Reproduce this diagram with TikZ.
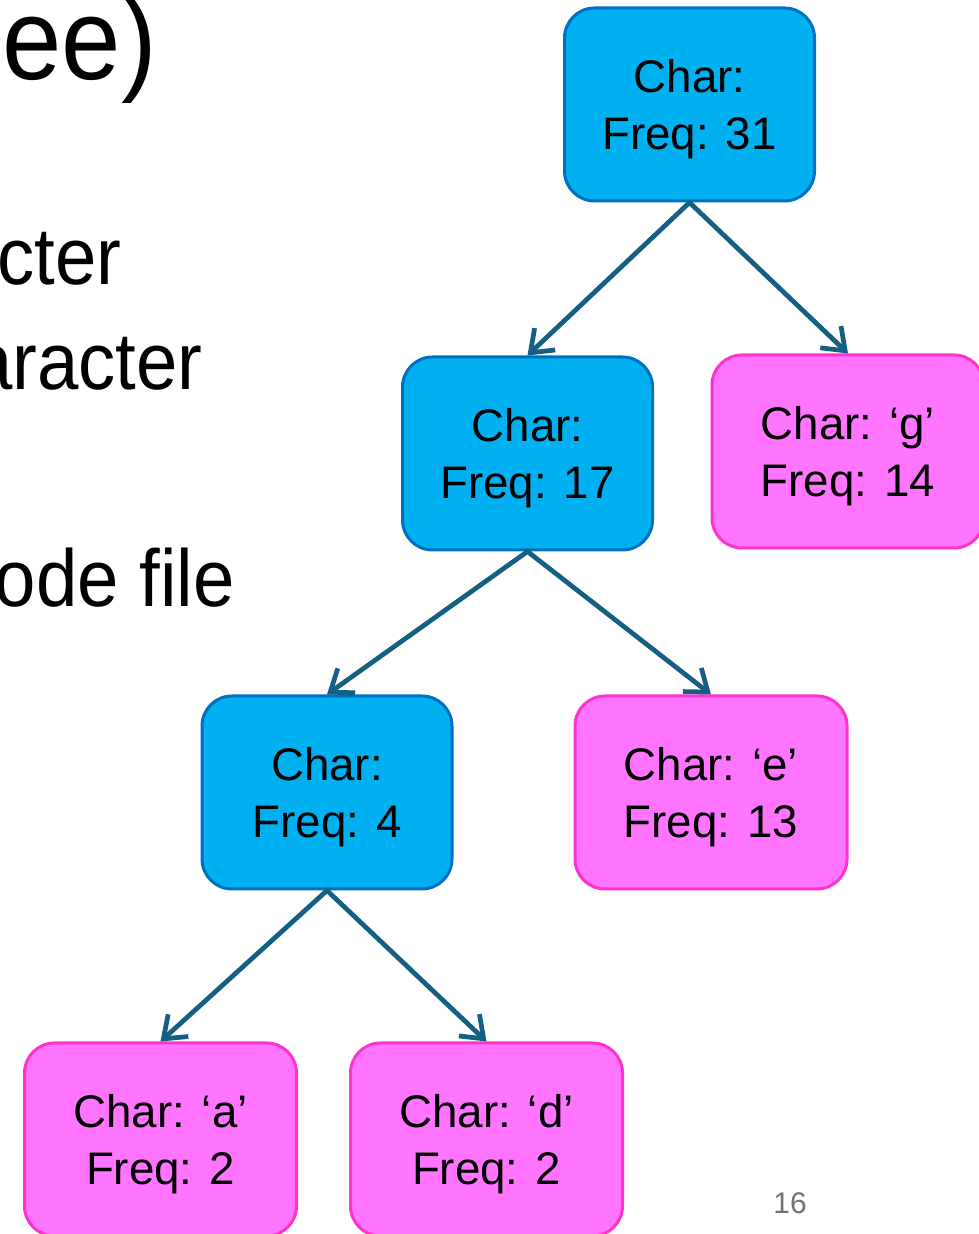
\documentclass[tikz,border=0pt]{standalone}
\usepackage{fontspec}
\setmainfont{Liberation Sans}
\newfontfamily\slidefont[FakeStretch=0.92]{Liberation Sans}
\usetikzlibrary{arrows.meta}
\definecolor{HTBlue}{HTML}{00B0F0}
\definecolor{HTBlueLine}{HTML}{0070C0}
\definecolor{HTPink}{HTML}{FF75FF}
\definecolor{HTPinkLine}{HTML}{FF33CC}
\definecolor{HTArrow}{HTML}{156082}
\definecolor{HTGray}{HTML}{767171}
\begin{document}
\begin{tikzpicture}[x=1cm,y=1cm,
  sumbox/.style={draw=HTBlueLine,fill=HTBlue,line width=0.06cm,rounded corners=0.6cm,
    minimum width=5.0cm,minimum height=3.86cm,align=center,text depth=0pt,
    font=\fontsize{26}{32.4}\selectfont},
  leafbox/.style={sumbox,draw=HTPinkLine,fill=HTPink,minimum width=5.44cm},
  link/.style={draw=HTArrow,line width=0.095cm,line cap=round,-{Straight Barb[length=4mm,width=6mm]}},
  slidetext/.style={anchor=base east,inner sep=0pt,font=\slidefont\fontsize{46}{46}\selectfont}]
\clip (0,0) rectangle (19.58,24.68);
% cut-off slide text
\node[slidetext,font=\slidefont\fontsize{66}{66}\selectfont] (title) at (3.14,23.08) {ree)};
\node[slidetext] (cter) at (2.44,18.98) {cter};
\node[slidetext] (aracter) at (4.06,16.88) {aracter};
\node[slidetext] (odefile) at (4.70,12.54) {ode file};
% tree
\node[sumbox] (root) at (13.79,22.59) {Char:\\Freq: 31};
\node[sumbox] (n17) at (10.55,15.61) {Char:\\Freq: 17};
\node[leafbox] (g) at (16.96,15.65) {Char: ‘g’\\Freq: 14};
\node[sumbox] (n4) at (6.54,8.83) {Char:\\Freq: 4};
\node[leafbox] (e) at (14.22,8.83) {Char: ‘e’\\Freq: 13};
\node[leafbox] (a) at (3.21,1.89) {Char: ‘a’\\Freq: 2};
\node[leafbox] (d) at (9.73,1.89) {Char: ‘d’\\Freq: 2};
\draw[link] (root.south) -- (n17.north);
\draw[link] (root.south) -- (g.north);
\draw[link] (n17.south) -- (n4.north);
\draw[link] (n17.south) -- (e.north);
\draw[link] (n4.south) -- (a.north);
\draw[link] (n4.south) -- (d.north);
\node[text=HTGray,font=\fontsize{17}{17}\selectfont] (pagenum) at (15.8,0.62) {16};
\end{tikzpicture}
\end{document}
